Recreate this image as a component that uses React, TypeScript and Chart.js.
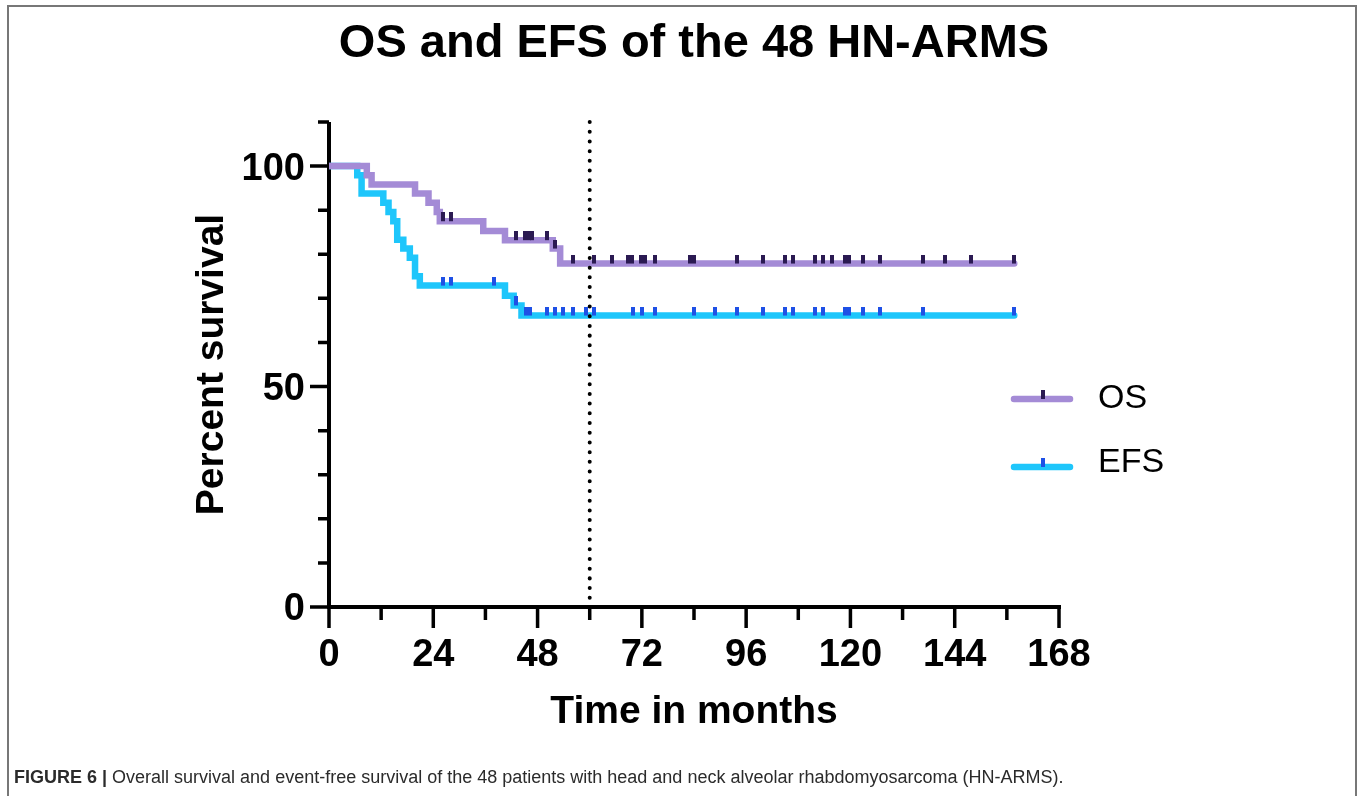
import React, { useEffect, useRef } from 'react';
import { Chart, registerables } from 'chart.js';

Chart.register(...registerables);

// ---------- data ----------
const chartTitle = 'OS and EFS of the 48 HN-ARMS';
const xAxisTitle = 'Time in months';
const yAxisTitle = 'Percent survival';
const seriesLabels = ['OS', 'EFS'];
const xTickLabels = [0, 24, 48, 72, 96, 120, 144, 168];
const yTickLabels = [0, 50, 100];
const landmarkMonth = 60;

// Kaplan–Meier steps: time (months) and survival (%) after each event
const osTimes = [0, 8.7, 9.8, 19.8, 22.9, 24.8, 25.5, 35.5, 40.5, 51.5, 53.2, 157.7];
const osSurvival = [100, 97.9, 95.8, 93.8, 91.7, 89.6, 87.5, 85.3, 83.2, 81.3, 77.9, 77.9];
const osCensorTimes = [
  26.2, 28.1, 43.1, 45.2, 46.0, 46.8, 50.1, 52.0, 56.1, 61.0, 65.1, 68.8, 69.8, 71.8, 72.8,
  75.0, 83.0, 84.0, 93.8, 99.8, 104.9, 106.8, 111.9, 113.8, 115.7, 118.7, 119.7, 122.8, 126.8,
  136.8, 141.8, 147.7, 157.7,
];

const efsTimes = [0, 6.5, 7.5, 12.5, 13.7, 14.8, 15.7, 17.1, 18.6, 19.8, 20.9, 40.5, 42.5, 44.3, 157.7];
const efsSurvival = [100, 97.9, 93.8, 91.7, 89.6, 87.5, 83.3, 81.3, 79.2, 75.0, 72.9, 70.6, 68.4, 66.1, 66.1];
const efsCensorTimes = [
  26.2, 28.1, 38.0, 43.1, 45.3, 46.2, 50.1, 52.0, 53.9, 56.1, 59.1, 61.0, 70.0, 72.0, 75.0,
  84.0, 88.8, 94.0, 99.8, 104.9, 106.8, 111.9, 113.8, 118.7, 119.7, 122.8, 126.8, 136.8, 157.7,
];

const captionBold = 'FIGURE 6 |';
const captionText =
  ' Overall survival and event-free survival of the 48 patients with head and neck alveolar rhabdomyosarcoma (HN-ARMS).';

// ---------- styles ----------
const FONT = "'Liberation Sans', Arial, Helvetica, sans-serif";
const osColor = '#a48bd6';
const osCensorColor = '#2b1a52';
const efsColor = '#1ec6fb';
const efsCensorColor = '#1e50e6';

function survivalAt(times: number[], surv: number[], t: number) {
  let v = surv[0];
  for (let i = 0; i < times.length; i++) if (times[i] <= t) v = surv[i];
  return v;
}

function censorMark(color: string) {
  const c = document.createElement('canvas');
  c.width = 4;
  c.height = 18;
  const g = c.getContext('2d')!;
  g.fillStyle = color;
  g.fillRect(0, 0, 4, 9);
  return c;
}

const titlePlugin = {
  id: 'centeredTitle',
  afterDraw(chart: any) {
    const { ctx, chartArea } = chart;
    ctx.save();
    ctx.fillStyle = '#000';
    ctx.font = `bold 47px ${FONT}`;
    ctx.textAlign = 'center';
    ctx.textBaseline = 'middle';
    ctx.fillText(chartTitle, (chartArea.left + chartArea.right) / 2, chartArea.top - 78);
    ctx.restore();
  },
};

const axesPlugin = {
  id: 'prismAxes',
  beforeDatasetsDraw(chart: any) {
    const { ctx } = chart;
    const x = chart.scales.x;
    const y = chart.scales.y;
    const x0 = x.getPixelForValue(x.min);
    const x1 = x.getPixelForValue(x.max);
    const y0 = y.getPixelForValue(y.min);
    const y1 = y.getPixelForValue(y.max);
    ctx.save();
    ctx.strokeStyle = '#000';
    ctx.lineCap = 'butt';
    ctx.lineWidth = 4;
    ctx.beginPath();
    ctx.moveTo(x0, y1);
    ctx.lineTo(x0, y0);
    ctx.moveTo(x0 - 2, y0);
    ctx.lineTo(x1 + 2, y0);
    ctx.stroke();
    ctx.lineWidth = 3.5;
    ctx.beginPath();
    for (const t of y.ticks) {
      const p = y.getPixelForValue(t.value);
      const len = yTickLabels.includes(t.value) ? 19 : 11;
      ctx.moveTo(x0 - len, p);
      ctx.lineTo(x0, p);
    }
    for (const t of x.ticks) {
      const p = x.getPixelForValue(t.value);
      const len = xTickLabels.includes(t.value) ? 21 : 13;
      ctx.moveTo(p, y0);
      ctx.lineTo(p, y0 + len);
    }
    ctx.stroke();
    ctx.restore();
  },
  afterDatasetsDraw(chart: any) {
    const { ctx } = chart;
    const x = chart.scales.x;
    const y = chart.scales.y;
    const px = x.getPixelForValue(landmarkMonth);
    ctx.save();
    ctx.strokeStyle = '#000';
    ctx.lineWidth = 4;
    ctx.lineCap = 'round';
    ctx.setLineDash([0.01, 9.7]);
    ctx.beginPath();
    ctx.moveTo(px, y.getPixelForValue(y.max));
    ctx.lineTo(px, y.getPixelForValue(1));
    ctx.stroke();
    ctx.restore();
  },
};

const legendPlugin = {
  id: 'kmLegend',
  afterDraw(chart: any) {
    const { ctx, chartArea } = chart;
    const rows = [
      { label: seriesLabels[0], color: osColor, mark: osCensorColor, lineY: chartArea.top + 277, textY: chartArea.top + 277 },
      { label: seriesLabels[1], color: efsColor, mark: efsCensorColor, lineY: chartArea.top + 345, textY: chartArea.top + 341 },
    ];
    const lx = chartArea.right - 45;
    ctx.save();
    for (const r of rows) {
      ctx.strokeStyle = r.color;
      ctx.lineWidth = 6.5;
      ctx.lineCap = 'round';
      ctx.beginPath();
      ctx.moveTo(lx, r.lineY);
      ctx.lineTo(lx + 56, r.lineY);
      ctx.stroke();
      ctx.fillStyle = r.mark;
      ctx.fillRect(lx + 27, r.lineY - 9, 4, 9);
      ctx.fillStyle = '#000';
      ctx.font = `34px ${FONT}`;
      ctx.textBaseline = 'middle';
      ctx.textAlign = 'left';
      ctx.fillText(r.label, lx + 84, r.textY);
    }
    ctx.restore();
  },
};

export default function App() {
  const ref = useRef<HTMLCanvasElement>(null);

  useEffect(() => {
    const canvas = ref.current!;
    const osLine = osTimes.map((t, i) => ({ x: t, y: osSurvival[i] }));
    const efsLine = efsTimes.map((t, i) => ({ x: t, y: efsSurvival[i] }));
    const osCens = osCensorTimes.map((t) => ({ x: t, y: survivalAt(osTimes, osSurvival, t) }));
    const efsCens = efsCensorTimes.map((t) => ({ x: t, y: survivalAt(efsTimes, efsSurvival, t) }));

    const chart = new Chart(canvas, {
      type: 'line',
      data: {
        datasets: [
          {
            label: seriesLabels[0] + ' censored',
            data: osCens,
            showLine: false,
            pointStyle: censorMark(osCensorColor) as any,
            pointRadius: 5,
            order: 1,
          },
          {
            label: seriesLabels[1] + ' censored',
            data: efsCens,
            showLine: false,
            pointStyle: censorMark(efsCensorColor) as any,
            pointRadius: 5,
            order: 2,
          },
          {
            label: seriesLabels[0],
            data: osLine,
            stepped: 'before',
            borderColor: osColor,
            borderWidth: 6.5,
            borderCapStyle: 'round',
            borderJoinStyle: 'miter',
            pointRadius: 0,
            fill: false,
            order: 3,
          },
          {
            label: seriesLabels[1],
            data: efsLine,
            stepped: 'before',
            borderColor: efsColor,
            borderWidth: 6.5,
            borderCapStyle: 'round',
            borderJoinStyle: 'miter',
            pointRadius: 0,
            fill: false,
            order: 4,
          },
        ] as any,
      },
      options: {
        animation: false,
        responsive: false,
        events: [],
        layout: { autoPadding: false, padding: { left: 189, right: 301, top: 122, bottom: 60 } },
        plugins: {
          legend: { display: false },
          tooltip: { enabled: false },
          title: { display: false },
        },
        scales: {
          x: {
            type: 'linear',
            min: 0,
            max: 168,
            grid: { display: false, drawTicks: false },
            border: { display: false },
            ticks: {
              stepSize: 12,
              autoSkip: false,
              maxRotation: 0,
              padding: 26,
              color: '#000',
              font: { family: FONT, size: 38, weight: 'bold', lineHeight: 1.2 },
              callback: (v: any) => (xTickLabels.includes(Number(v)) ? String(v) : ''),
            },
            title: {
              display: true,
              text: xAxisTitle,
              color: '#000',
              padding: 0,
              font: { family: FONT, size: 39, weight: 'bold', lineHeight: 1.2 },
            },
            afterFit: (s: any) => {
              s.height = 129;
              s.paddingLeft = 0;
              s.paddingRight = 0;
            },
          },
          y: {
            type: 'linear',
            min: 0,
            max: 110,
            grid: { display: false, drawTicks: false },
            border: { display: false },
            ticks: {
              stepSize: 10,
              autoSkip: false,
              padding: 24,
              labelOffset: 3,
              color: '#000',
              font: { family: FONT, size: 38, weight: 'bold', lineHeight: 1.2 },
              callback: (v: any) => (yTickLabels.includes(Number(v)) ? String(v) : ''),
            },
            title: {
              display: true,
              text: yAxisTitle,
              color: '#000',
              padding: 0,
              font: { family: FONT, size: 39, weight: 'bold', lineHeight: 1.2 },
            },
            afterFit: (s: any) => {
              s.width = 140;
              s.paddingTop = 0;
              s.paddingBottom = 0;
            },
          },
        },
      } as any,
      plugins: [axesPlugin, legendPlugin, titlePlugin],
    });
    return () => chart.destroy();
  }, []);

  return (
    <div
      style={{
        position: 'fixed',
        left: 0,
        top: 0,
        width: 1360,
        height: 796,
        background: '#fff',
        overflow: 'hidden',
      }}
    >
      <div
        style={{
          position: 'absolute',
          left: 7,
          top: 5,
          width: 1346,
          height: 830,
          border: '2px solid #777',
        }}
      />
      <canvas
        ref={ref}
        width={1360}
        height={796}
        style={{ position: 'absolute', left: 0, top: 0, width: 1360, height: 796 }}
      />
      <div
        style={{
          position: 'absolute',
          left: 14,
          top: 766,
          fontFamily: FONT,
          fontSize: 18,
          lineHeight: '22px',
          color: '#2b2b2b',
          whiteSpace: 'nowrap',
        }}
      >
        <b>{captionBold}</b>
        {captionText}
      </div>
    </div>
  );
}
